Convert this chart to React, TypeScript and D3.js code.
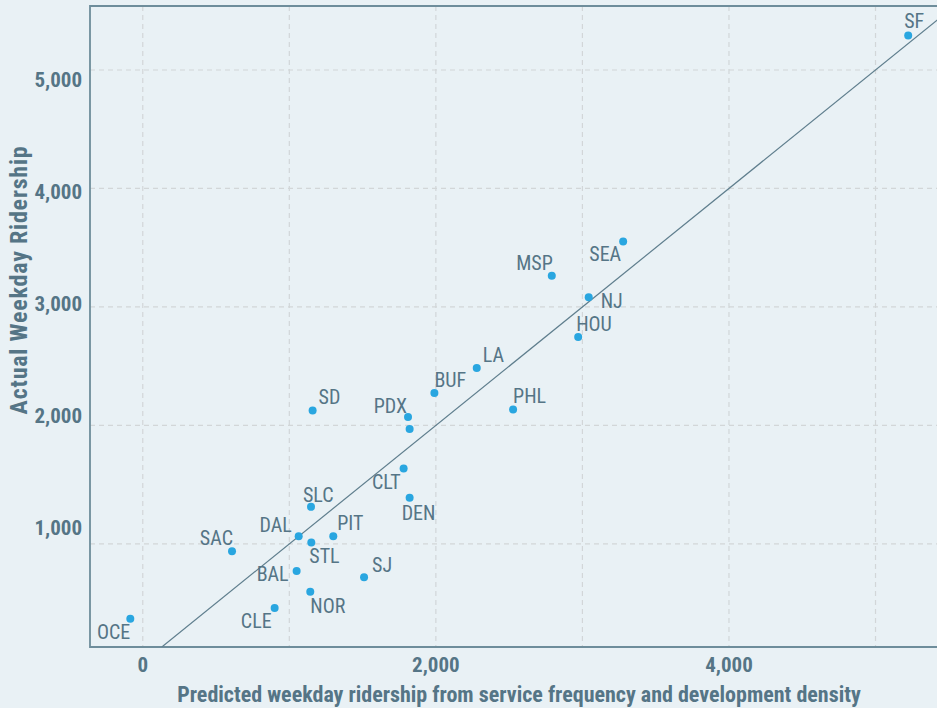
import { useEffect, useRef } from "react";
import * as d3 from "d3";

// transit systems: predicted vs actual weekday ridership
const cities = ["SF", "SEA", "MSP", "NJ", "HOU", "LA", "BUF", "PHL", "SD", "PDX", "PDX2", "CLT", "DEN", "SLC", "DAL", "PIT", "STL", "SAC", "BAL", "SJ", "NOR", "CLE", "OCE"];
const predicted = [5223, 3278, 2791, 3043, 2971, 2279, 1990, 2527, 1159, 1810, 1821, 1780, 1821, 1148, 1064, 1300, 1150, 609, 1050, 1510, 1143, 900, -85];
const actual = [5292, 3553, 3263, 3082, 2747, 2485, 2274, 2135, 2127, 2071, 1970, 1637, 1389, 1313, 1065, 1065, 1011, 938, 772, 718, 597, 459, 369];

const xTicks = [0, 1000, 2000, 3000, 4000, 5000];
const xTickLabels = [0, 2000, 4000];
const yTicks = [1000, 2000, 3000, 4000, 5000];

// label placement: [anchor, dx, dy]
const LABEL_POS: Record<string, [string, number, number]> = {
  SF: ["start", -4, -7],
  SEA: ["end", -2, 20],
  MSP: ["end", 1, -6],
  NJ: ["start", 12, 11],
  HOU: ["start", -2, -6],
  LA: ["start", 6, -6],
  BUF: ["start", 0, -6],
  PHL: ["start", 0, -6],
  SD: ["start", 6, -6],
  PDX: ["end", -1, -4],
  PDX2: ["start", 0, 0],
  CLT: ["end", -3, 21],
  DEN: ["start", -8, 22],
  SLC: ["start", -8, -5],
  DAL: ["end", -7, -4],
  PIT: ["start", 4, -6],
  STL: ["start", -2, 20],
  SAC: ["end", 1, -6],
  BAL: ["end", -8, 10],
  SJ: ["start", 8, -5],
  NOR: ["start", 0, 21],
  CLE: ["end", -3, 20],
  OCE: ["end", 0, 20],
};

const W = 937;
const H = 708;
const FONT = "'Liberation Sans Narrow', 'Roboto Condensed', 'DejaVu Sans Condensed', sans-serif";
const TEXT = "#557586";
const AXIS = "#6e8d9b";

export default function App() {
  const ref = useRef<SVGSVGElement>(null);

  useEffect(() => {
    if (!ref.current) return;
    const svg = d3.select(ref.current);
    svg.selectAll("*").remove();

    const left = 90, top = 6, bottom = 647, right = 940;
    const x = d3.scaleLinear().domain([-360, 5440]).range([left, right]);
    const y = d3.scaleLinear().domain([130, 5540]).range([bottom, top]);
    // tick labels sit on a slightly tighter spacing than the grid
    const yLabel = d3.scaleLinear().domain([1000, 5000]).range([535, 87]);

    svg.append("rect").attr("width", W).attr("height", H).attr("fill", "#e9f1f5");

    // grid
    const grid = svg.append("g").attr("stroke", "#d2d6d8").attr("stroke-width", 1.2).attr("stroke-dasharray", "5,4");
    grid.selectAll(".gx").data(xTicks).join("line")
      .attr("x1", (d) => x(d)).attr("x2", (d) => x(d)).attr("y1", top).attr("y2", bottom);
    grid.selectAll(".gy").data(yTicks).join("line")
      .attr("x1", left).attr("x2", right).attr("y1", (d) => y(d)).attr("y2", (d) => y(d));

    // frame
    svg.append("path")
      .attr("d", `M${right},${top}H${left}V${bottom}H${right}`)
      .attr("fill", "none").attr("stroke", AXIS).attr("stroke-width", 1.8);

    // identity line
    const clip = svg.append("clipPath").attr("id", "plotclip");
    clip.append("rect").attr("x", left).attr("y", top).attr("width", right - left).attr("height", bottom - top);
    const lineDom = [130, 5600];
    svg.append("path")
      .attr("clip-path", "url(#plotclip)")
      .attr("d", d3.line<number>().x((d) => x(d)).y((d) => y(d))(lineDom))
      .attr("stroke", "#5f7e8d").attr("stroke-width", 1.2).attr("fill", "none");

    // axis labels
    svg.append("g").selectAll("text").data(xTickLabels).join("text")
      .attr("x", (d) => x(d)).attr("y", 672)
      .attr("text-anchor", "middle")
      .attr("font-family", FONT).attr("font-weight", "bold").attr("font-size", 21).attr("fill", TEXT)
      .text((d) => d3.format(",")(d));
    svg.append("g").selectAll("text").data(yTicks).join("text")
      .attr("x", 82).attr("y", (d) => yLabel(d))
      .attr("text-anchor", "end")
      .attr("font-family", FONT).attr("font-weight", "bold").attr("font-size", 21).attr("fill", TEXT)
      .text((d) => d3.format(",")(d));

    svg.append("text")
      .attr("x", 519).attr("y", 702).attr("text-anchor", "middle")
      .attr("font-family", FONT).attr("font-weight", "bold").attr("font-size", 22).attr("fill", TEXT)
      .text("Predicted weekday ridership from service frequency and development density");
    svg.append("text")
      .attr("transform", "translate(27,280) rotate(-90)").attr("text-anchor", "middle")
      .attr("font-family", FONT).attr("font-weight", "bold").attr("font-size", 24)
      .attr("letter-spacing", 0.8).attr("fill", TEXT)
      .text("Actual Weekday Ridership");

    const data = cities.map((c, i) => ({ city: c, px: predicted[i], ay: actual[i] }));

    svg.append("g").selectAll("circle").data(data).join("circle")
      .attr("cx", (d) => x(d.px)).attr("cy", (d) => y(d.ay)).attr("r", 4)
      .attr("fill", "#29a6e0");

    svg.append("g").selectAll("text").data(data.filter((d) => d.city !== "PDX2")).join("text")
      .attr("x", (d) => x(d.px) + LABEL_POS[d.city][1])
      .attr("y", (d) => y(d.ay) + LABEL_POS[d.city][2])
      .attr("text-anchor", (d) => LABEL_POS[d.city][0])
      .attr("font-family", FONT).attr("font-size", 20).attr("fill", TEXT)
      .text((d) => d.city);
  }, []);

  return <svg ref={ref} width={W} height={H} style={{ position: "absolute", left: 0, top: 0, display: "block" }} />;
}
